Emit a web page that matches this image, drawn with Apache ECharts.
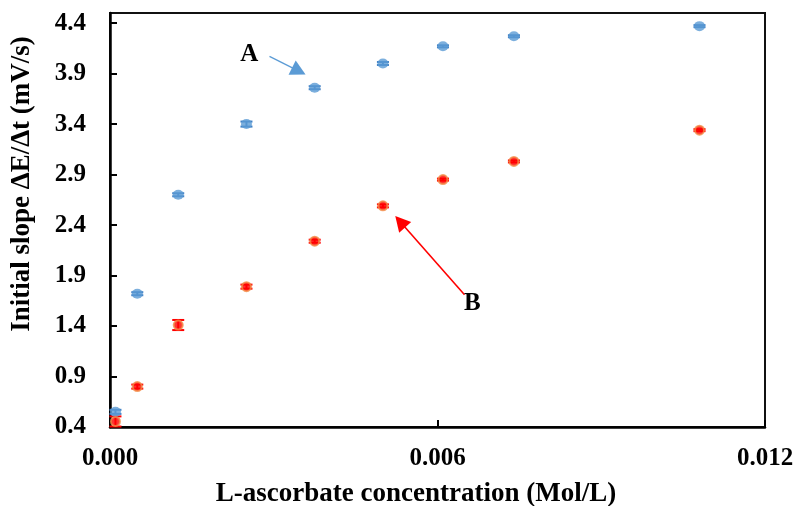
<!DOCTYPE html>
<html>
<head>
<meta charset="utf-8">
<script src="https://cdn.jsdelivr.net/npm/echarts@6/dist/echarts.min.js"></script>
<style>
  html, body { margin: 0; padding: 0; background: #fff; }
  #chart { width: 799px; height: 506px; }
</style>
</head>
<body>
<div id="chart"></div>
<script>
// L-ascorbate concentration (mol/L) for both sample series
const concentration = [0.0001, 0.0005, 0.00125, 0.0025, 0.00375, 0.005, 0.0061, 0.0074, 0.0108];
// Initial slope ΔE/Δt (mV/s), series A and B
const slopeA = [0.55, 1.72, 2.70, 3.40, 3.76, 4.00, 4.17, 4.27, 4.37];
const slopeB = [0.455, 0.80, 1.41, 1.79, 2.24, 2.59, 2.85, 3.03, 3.34];
// Standard deviations (error bars)
const errA = [0.02, 0.015, 0.015, 0.025, 0.015, 0.015, 0.01, 0.01, 0.01];
const errB = [0.05, 0.02, 0.05, 0.02, 0.015, 0.015, 0.01, 0.01, 0.01];
// Tick values
const xTicks = [0, 0.006, 0.012];
const yTicks = [0.4, 0.9, 1.4, 1.9, 2.4, 2.9, 3.4, 3.9, 4.4];
// Annotation anchors in data units: label, arrow start, arrow head
const labelA = [0.00255, 4.087];
const arrowA = [[0.002922, 4.070], [0.003460, 3.925]];
const labelB = [0.00664, 1.621];
const arrowB = [[0.006495, 1.710], [0.005317, 2.433]];

const FONT = "'Liberation Serif', 'Times New Roman', serif";
const BLUE = '#5b9bd5';
const RED = '#ff0000';

const pointsA = concentration.map((x, i) => [x, slopeA[i]]);
const pointsB = concentration.map((x, i) => [x, slopeB[i]]);
const barsA = concentration.map((x, i) => [x, slopeA[i], errA[i]]);
const barsB = concentration.map((x, i) => [x, slopeB[i], errB[i]]);

function errorBars(color, capHalf) {
  return function (params, api) {
    const x = api.value(0), y = api.value(1), e = api.value(2);
    const top = api.coord([x, y + e]);
    const bot = api.coord([x, y - e]);
    const style = { stroke: color, lineWidth: 2 };
    return {
      type: 'group',
      children: [
        { type: 'line', shape: { x1: top[0], y1: top[1], x2: bot[0], y2: bot[1] }, style },
        { type: 'line', shape: { x1: top[0] - capHalf, y1: top[1], x2: top[0] + capHalf, y2: top[1] }, style },
        { type: 'line', shape: { x1: bot[0] - capHalf, y1: bot[1], x2: bot[0] + capHalf, y2: bot[1] }, style }
      ]
    };
  };
}

const chart = echarts.init(document.getElementById('chart'), null, { renderer: 'canvas' });

chart.setOption({
  backgroundColor: '#fff',
  animation: false,
  grid: {
    left: 110, top: 13, width: 655, height: 414,
    show: true, borderColor: '#111', borderWidth: 2, backgroundColor: 'transparent'
  },
  xAxis: {
    type: 'value', min: 0, max: 0.012,
    axisLine: { show: true, onZero: false, lineStyle: { color: '#000', width: 2.5 } },
    axisTick: { show: true, inside: true, length: 7, customValues: xTicks, lineStyle: { color: '#000', width: 2 } },
    axisLabel: {
      customValues: xTicks, margin: 19,
      formatter: v => v.toFixed(3),
      fontFamily: FONT, fontWeight: 'bold', fontSize: 25, color: '#000'
    },
    splitLine: { show: false }
  },
  yAxis: {
    type: 'value', min: 0.4, max: 4.5,
    axisLine: { show: true, onZero: false, lineStyle: { color: '#000', width: 2.5 } },
    axisTick: { show: true, inside: true, length: 7, customValues: yTicks, lineStyle: { color: '#000', width: 2 } },
    axisLabel: {
      customValues: yTicks, margin: 24,
      formatter: v => v.toFixed(1),
      fontFamily: FONT, fontWeight: 'bold', fontSize: 25, color: '#000'
    },
    splitLine: { show: false }
  },
  graphic: [
    {
      type: 'text', x: 22, y: 184, rotation: Math.PI / 2,
      style: {
        text: 'Initial slope ΔE/Δt (mV/s)', fontFamily: FONT, fontWeight: 'bold',
        fontSize: 27, fill: '#000', align: 'center', verticalAlign: 'middle'
      }
    },
    {
      type: 'text', x: 416, y: 494,
      style: {
        text: 'L-ascorbate concentration (Mol/L)', fontFamily: FONT, fontWeight: 'bold',
        fontSize: 27, fill: '#000', align: 'center', verticalAlign: 'middle'
      }
    }
  ],
  series: [
    {
      name: 'A error', type: 'custom', data: barsA, encode: { x: 0, y: 1 },
      renderItem: errorBars('#3f7fc4', 6), z: 2, silent: true
    },
    {
      name: 'B error', type: 'custom', data: barsB, encode: { x: 0, y: 1 },
      renderItem: errorBars(RED, 6), z: 2, silent: true
    },
    {
      name: 'A', type: 'scatter', data: pointsA, symbol: 'circle', symbolSize: [11, 10],
      itemStyle: { color: BLUE }, z: 3,
      markPoint: {
        symbol: 'circle', symbolSize: 0, silent: true,
        label: { show: true, position: 'inside', formatter: 'A', fontFamily: FONT, fontWeight: 'bold', fontSize: 25, color: '#000' },
        data: [{ coord: labelA }]
      },
      markLine: {
        silent: true, symbol: ['none', 'triangle'], symbolSize: [16, 15],
        lineStyle: { color: BLUE, width: 1.3, type: 'solid' },
        label: { show: false },
        data: [[{ coord: arrowA[0] }, { coord: arrowA[1] }]]
      }
    },
    {
      name: 'B', type: 'scatter', data: pointsB, symbol: 'circle', symbolSize: 9,
      itemStyle: { color: RED, borderColor: '#f28a44', borderWidth: 2 }, z: 3,
      markPoint: {
        symbol: 'circle', symbolSize: 0, silent: true,
        label: { show: true, position: 'inside', formatter: 'B', fontFamily: FONT, fontWeight: 'bold', fontSize: 25, color: '#000' },
        data: [{ coord: labelB }]
      },
      markLine: {
        silent: true, symbol: ['none', 'triangle'], symbolSize: [16, 15],
        lineStyle: { color: RED, width: 1.6, type: 'solid' },
        label: { show: false },
        data: [[{ coord: arrowB[0] }, { coord: arrowB[1] }]]
      }
    }
  ]
});
</script>
</body>
</html>
